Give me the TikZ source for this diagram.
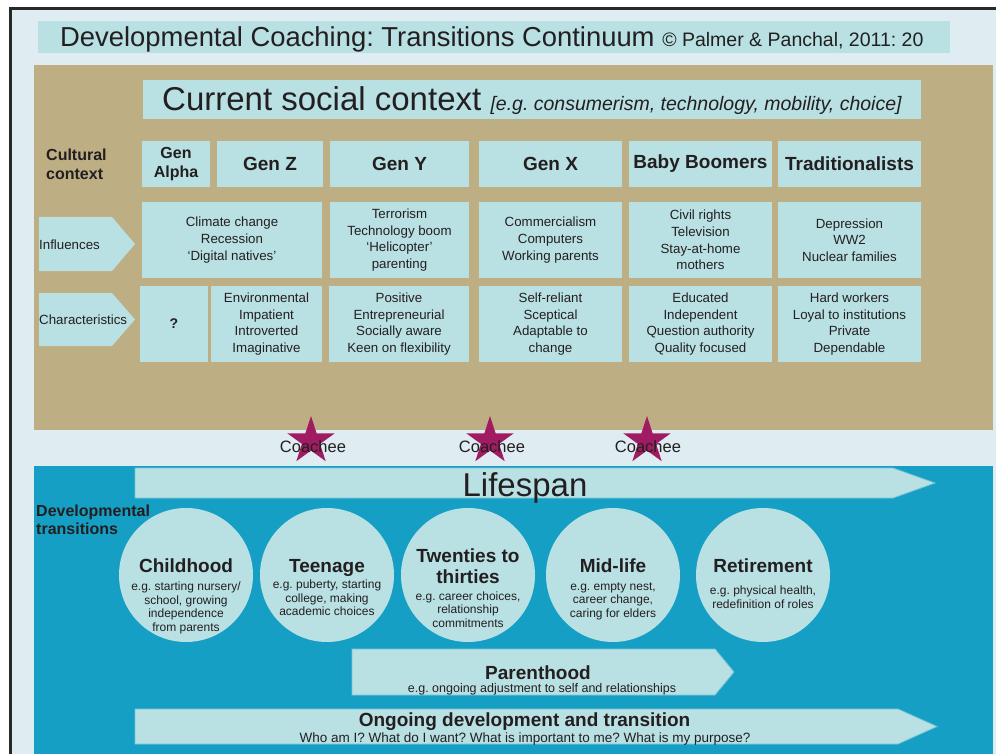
\documentclass[tikz,border=0pt]{standalone}
\usepackage{fontspec}
\setmainfont{Liberation Sans}
\usetikzlibrary{shapes.geometric}
\frenchspacing

\definecolor{framebg}{RGB}{223,236,241}
\definecolor{framedark}{RGB}{40,40,40}
\definecolor{boxfill}{RGB}{185,224,227}
\definecolor{boxedge}{RGB}{120,196,214}
\definecolor{tanbg}{RGB}{190,174,132}
\definecolor{tealbg}{RGB}{22,159,196}
\definecolor{starcol}{RGB}{160,28,98}
\definecolor{ink}{RGB}{35,31,32}

\newcommand\fsz[2]{\fontsize{#1}{#2}\selectfont}

\begin{document}
\begin{tikzpicture}[x=1pt,y=-1pt,
  cell/.style={fill=boxfill, inner sep=0pt, align=center, text=ink,
               font=\fsz{13.3}{16.7}},
  headcell/.style={cell, font=\fsz{19}{22}\bfseries},
  label/.style={inner sep=0pt, text=ink},
  lifecircle/.style={circle, fill=boxfill, inner sep=0pt, minimum size=134pt},
  circtitle/.style={label, font=\fsz{19}{21}\bfseries, align=center},
  circbody/.style={label, font=\fsz{12}{13.5}, align=center},
  arrowband/.style={fill=boxfill, draw=boxedge, line width=0.8pt},
  coachstar/.style={star, star points=5, star point ratio=2.618,
                    minimum size=50pt, inner sep=0pt, fill=starcol}]

\clip (0,0) rectangle (996,754);
\fill[white] (0,0) rectangle (996,754);
\draw[line width=3pt, draw=framedark, fill=framebg] (10.5,8.5) rectangle (1020,790);

% ---------- title bar ----------
\node[cell, minimum width=912pt, minimum height=32pt] (titlebar) at (494,37) {};
\node[label, anchor=base west] (titletext) at (60,47)
  {\fsz{27.4}{30}Developmental Coaching: Transitions Continuum \fsz{19.5}{22}© Palmer \& Panchal, 2011: 20};

% ---------- cultural context panel ----------
\fill[tanbg] (34,65) rectangle (993,430);

\node[cell, minimum width=778pt, minimum height=39pt] (social) at (532,99.5) {};
\node[label, anchor=base west] (socialtext) at (162,111)
  {\fsz{33}{36}Current social context {\fsz{19.5}{22}\itshape [e.g. consumerism, technology, mobility, choice]}};

% base anchor of a two-line label sits on its last line
\node[label, anchor=base west, align=left, font=\fsz{16}{19}\bfseries] (cultural) at (46,180)
  {Cultural\\context};

% generation headers
\node[cell, font=\fsz{16}{19}\bfseries, minimum width=68pt, minimum height=46pt] (hAlpha) at (176,164.5) {Gen\\Alpha};
\node[headcell, minimum width=106pt, minimum height=46pt] (hZ) at (270,164) {Gen Z};
\node[headcell, minimum width=139pt, minimum height=46pt] (hY) at (399.5,164) {Gen Y};
\node[headcell, minimum width=143pt, minimum height=46pt] (hX) at (550.5,164) {Gen X};
\node[headcell, minimum width=143pt, minimum height=46pt] (hBB) at (700.5,164) {Baby Boomers};
\node[headcell, minimum width=143pt, minimum height=46pt] (hT) at (849.5,164) {Traditionalists};

% influences row
\fill[boxfill] (39,217) -- (112,217) -- (135,244) -- (112,271) -- (39,271) -- cycle;
\node[label, anchor=base west, font=\fsz{13.3}{16}] (influences) at (39,250) {Influences};
\node[cell, minimum width=180pt, minimum height=76pt] (iAZ) at (232,240)
  {Climate change\\Recession\\‘Digital natives’};
\node[cell, minimum width=139pt, minimum height=76pt] (iY) at (399.5,240)
  {Terrorism\\Technology boom\\‘Helicopter’\\parenting};
\node[cell, minimum width=143pt, minimum height=76pt] (iX) at (550.5,240)
  {Commercialism\\Computers\\Working parents};
\node[cell, minimum width=143pt, minimum height=76pt] (iBB) at (700.5,240)
  {Civil rights\\Television\\Stay-at-home\\mothers};
\node[cell, minimum width=143pt, minimum height=76pt] (iT) at (849.5,240)
  {Depression\\WW2\\Nuclear families};

% characteristics row
\fill[boxfill] (39,293) -- (112,293) -- (135,319.5) -- (112,346) -- (39,346) -- cycle;
\node[label, anchor=base west, font=\fsz{13.3}{16}] (characteristics) at (39,324) {Characteristics};
\node[cell, font=\fsz{14}{16}\bfseries, minimum width=68pt, minimum height=76pt] (cA) at (174,324) {?};
\node[cell, minimum width=111pt, minimum height=76pt] (cZ) at (266.5,324)
  {Environmental\\Impatient\\Introverted\\Imaginative};
\node[cell, minimum width=140pt, minimum height=76pt] (cY) at (399,324)
  {Positive\\Entrepreneurial\\Socially aware\\Keen on flexibility};
\node[cell, minimum width=143pt, minimum height=76pt] (cX) at (550.5,324)
  {Self-reliant\\Sceptical\\Adaptable to\\change};
\node[cell, minimum width=143pt, minimum height=76pt] (cBB) at (700.5,324)
  {Educated\\Independent\\Question authority\\Quality focused};
\node[cell, minimum width=143pt, minimum height=76pt] (cT) at (849.5,324)
  {Hard workers\\Loyal to institutions\\Private\\Dependable};

% ---------- coachee markers ----------
\node[coachstar] (star1) at (311,441) {};
\node[coachstar] (star2) at (490,441) {};
\node[coachstar] (star3) at (647,441) {};
\node[label, font=\fsz{16.5}{18}, anchor=base] (coach1) at (313,452) {Coachee};
\node[label, font=\fsz{16.5}{18}, anchor=base] (coach2) at (492,452) {Coachee};
\node[label, font=\fsz{16.5}{18}, anchor=base] (coach3) at (648,452) {Coachee};

% ---------- developmental transitions panel ----------
\fill[tealbg] (34,466) rectangle (993,790);

\draw[arrowband] (135,468) -- (893,468) -- (935,483) -- (893,498) -- (135,498) -- cycle;
\node[label, anchor=base, font=\fsz{33}{36}] (lifespan) at (525,496) {Lifespan};

\node[label, anchor=base west, align=left, font=\fsz{16}{18}\bfseries] (devtrans) at (36,534)
  {Developmental\\transitions};

% life stages
\node[lifecircle] (child) at (186,575) {};
\node[lifecircle] (teen) at (327,575) {};
\node[lifecircle] (twenties) at (468,575) {};
\node[lifecircle] (midlife) at (613,575) {};
\node[lifecircle] (retire) at (763,575) {};

\node[circtitle, anchor=base] (childT) at (186,572) {Childhood};
\node[circbody] (childB) at (186,608)
  {e.g. starting nursery/\\school, growing\\independence\\from parents};
\node[circtitle, anchor=base] (teenT) at (327,572) {Teenage};
\node[circbody] (teenB) at (327,598)
  {e.g. puberty, starting\\college, making\\academic choices};
\node[circtitle, anchor=base] (twentiesT1) at (468,562) {Twenties to};
\node[circtitle, anchor=base] (twentiesT2) at (468,583) {thirties};
\node[circbody] (twentiesB) at (468,609.5)
  {e.g. career choices,\\relationship\\commitments};
\node[circtitle, anchor=base] (midlifeT) at (613,572) {Mid-life};
\node[circbody] (midlifeB) at (613,601)
  {e.g. empty nest,\\career change,\\caring for elders};
\node[circtitle, anchor=base] (retireT) at (763,572) {Retirement};
\node[circbody] (retireB) at (763,597)
  {e.g. physical health,\\redefinition of roles};

% parenthood band
\draw[arrowband] (352,649) -- (715,649) -- (734,672) -- (715,695) -- (352,695) -- cycle;
\node[label, anchor=base, font=\fsz{19}{21}\bfseries] (parentT) at (538,679) {Parenthood};
\node[label, anchor=base, font=\fsz{12.5}{14}] (parentB) at (542,692)
  {e.g. ongoing adjustment to self and relationships};

% ongoing band
\draw[arrowband] (135,709) -- (898,709) -- (937,726.5) -- (898,744) -- (135,744) -- cycle;
\node[label, anchor=base, font=\fsz{19}{21}\bfseries] (ongoingT) at (524.5,726) {Ongoing development and transition};
\node[label, anchor=base, font=\fsz{13.5}{15}] (ongoingB) at (525,742)
  {Who am I? What do I want? What is important to me? What is my purpose?};

\end{tikzpicture}
\end{document}
